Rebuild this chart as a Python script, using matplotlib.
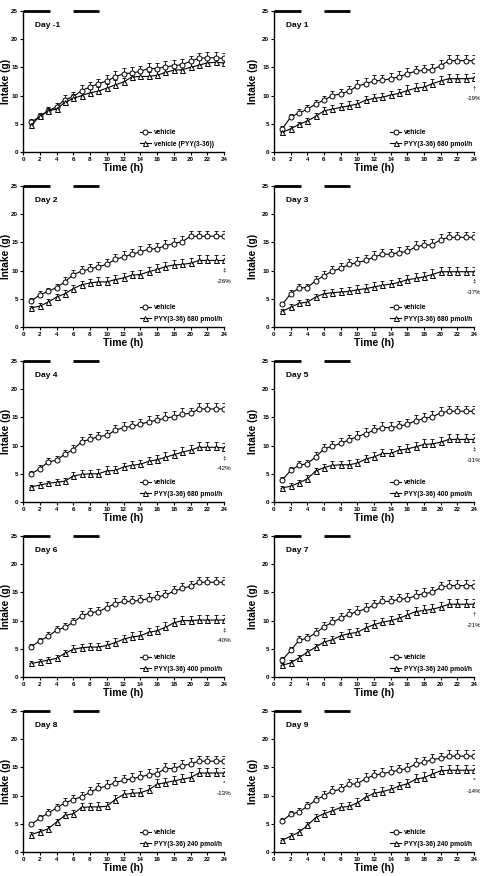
import matplotlib
matplotlib.use('Agg')
import matplotlib.pyplot as plt

plt.rcParams['font.family'] = ['Liberation Sans', 'DejaVu Sans']

HOURS = list(range(1, 25))
DARK_BARS = [(0.0, 3.2), (6.0, 9.1)]

DAY_TITLES = ['Day -1', 'Day 1', 'Day 2', 'Day 3', 'Day 4', 'Day 5', 'Day 6', 'Day 7', 'Day 8', 'Day 9']
PYY_LABELS = ['vehicle (PYY(3-36))', 'PYY(3-36) 680 pmol/h', 'PYY(3-36) 680 pmol/h', 'PYY(3-36) 680 pmol/h',
              'PYY(3-36) 680 pmol/h', 'PYY(3-36) 400 pmol/h', 'PYY(3-36) 400 pmol/h', 'PYY(3-36) 240 pmol/h',
              'PYY(3-36) 240 pmol/h', 'PYY(3-36) 240 pmol/h']
SIG_MARKS = ['', '†', '‡', '‡', '‡', '‡', '‡', '†', '*', '*']
PCT_LABELS = ['', '-19%', '-26%', '-37%', '-42%', '-31%', '-40%', '-21%', '-13%', '-14%']

VEH_DM1 = [5.3, 6.3, 7.3, 8.0, 9.3, 9.8, 10.9, 11.5, 12.1, 12.6, 13.3, 13.9, 14.0, 14.3, 14.8, 14.8, 15.1, 15.3, 15.5, 16.1, 16.6, 16.7, 16.7, 16.6]
PYY_DM1 = [4.8, 6.3, 7.3, 7.6, 8.8, 9.5, 10.0, 10.5, 10.8, 11.3, 11.9, 12.4, 13.3, 13.4, 13.4, 13.6, 14.1, 14.5, 14.6, 15.0, 15.4, 15.8, 15.9, 15.8]
VEH_D1 = [4.1, 6.2, 6.9, 7.6, 8.5, 9.2, 10.0, 10.3, 10.8, 11.7, 12.1, 12.6, 12.7, 13.0, 13.3, 13.9, 14.3, 14.5, 14.6, 15.3, 16.2, 16.2, 16.2, 16.2]
PYY_D1 = [3.5, 4.1, 4.9, 5.5, 6.3, 7.3, 7.6, 7.9, 8.2, 8.5, 9.2, 9.5, 9.7, 10.1, 10.4, 10.9, 11.3, 11.5, 12.1, 12.6, 13.0, 13.0, 13.0, 13.1]
VEH_D2 = [4.6, 5.7, 6.3, 7.0, 8.0, 9.3, 9.9, 10.3, 10.7, 11.1, 12.0, 12.4, 12.9, 13.3, 13.8, 13.9, 14.4, 14.8, 15.1, 16.1, 16.1, 16.1, 16.1, 16.1]
PYY_D2 = [3.4, 3.7, 4.4, 5.3, 5.9, 6.8, 7.5, 7.8, 8.0, 8.0, 8.4, 8.7, 9.2, 9.3, 9.8, 10.2, 10.7, 11.0, 11.1, 11.3, 11.8, 11.8, 11.8, 11.8]
VEH_D3 = [4.0, 5.9, 6.9, 7.0, 8.2, 9.1, 9.9, 10.4, 11.1, 11.4, 11.8, 12.4, 12.9, 12.9, 13.2, 13.4, 14.2, 14.5, 14.6, 15.5, 15.9, 15.9, 15.9, 15.9]
PYY_D3 = [2.8, 3.5, 4.2, 4.4, 5.3, 5.9, 6.1, 6.2, 6.3, 6.6, 6.8, 7.1, 7.4, 7.6, 7.9, 8.4, 8.6, 8.9, 9.3, 9.8, 9.8, 9.8, 9.8, 9.8]
VEH_D4 = [5.0, 5.9, 7.1, 7.4, 8.5, 9.3, 10.7, 11.1, 11.6, 11.8, 12.7, 13.2, 13.4, 13.8, 14.2, 14.5, 14.9, 15.1, 15.6, 15.7, 16.5, 16.5, 16.5, 16.5]
PYY_D4 = [2.7, 3.0, 3.3, 3.5, 3.7, 4.6, 4.9, 5.0, 5.0, 5.5, 5.6, 6.2, 6.5, 6.7, 7.2, 7.5, 7.9, 8.4, 8.8, 9.2, 9.7, 9.7, 9.7, 9.6]
VEH_D5 = [3.9, 5.6, 6.5, 6.8, 8.0, 9.4, 9.9, 10.4, 11.0, 11.6, 12.1, 12.7, 13.2, 13.2, 13.4, 13.8, 14.4, 14.8, 15.1, 15.8, 16.1, 16.1, 16.1, 16.1]
PYY_D5 = [2.5, 2.8, 3.4, 4.1, 5.5, 6.1, 6.5, 6.6, 6.6, 6.9, 7.6, 8.0, 8.6, 8.6, 9.2, 9.4, 9.8, 10.2, 10.3, 10.6, 11.1, 11.1, 11.1, 11.1]
VEH_D6 = [5.4, 6.4, 7.2, 8.3, 8.8, 9.7, 10.8, 11.4, 11.6, 12.3, 13.0, 13.4, 13.4, 13.6, 13.9, 14.2, 14.5, 15.2, 15.7, 16.1, 16.8, 16.8, 16.8, 16.8]
PYY_D6 = [2.4, 2.7, 3.0, 3.3, 4.2, 4.9, 5.2, 5.3, 5.3, 5.6, 6.1, 6.7, 7.1, 7.3, 7.9, 8.2, 8.8, 9.6, 10.0, 10.0, 10.1, 10.1, 10.1, 10.1]
VEH_D7 = [3.0, 4.7, 6.5, 6.9, 7.8, 8.9, 9.7, 10.4, 11.1, 11.6, 12.1, 12.7, 13.4, 13.4, 13.8, 13.9, 14.4, 14.8, 15.0, 15.9, 16.2, 16.2, 16.2, 16.2]
PYY_D7 = [2.1, 2.5, 3.4, 4.4, 5.3, 6.2, 6.6, 7.3, 7.7, 7.9, 8.7, 9.3, 9.7, 10.0, 10.4, 11.0, 11.6, 11.8, 12.0, 12.4, 12.9, 12.9, 12.9, 12.9]
VEH_D8 = [4.9, 6.0, 6.9, 7.8, 8.7, 9.3, 9.8, 10.6, 11.3, 11.7, 12.3, 12.7, 13.0, 13.3, 13.7, 13.9, 14.8, 14.8, 15.3, 15.6, 16.1, 16.1, 16.1, 16.1]
PYY_D8 = [3.1, 3.6, 4.1, 5.3, 6.5, 6.8, 7.9, 8.0, 8.0, 8.1, 9.3, 10.2, 10.4, 10.5, 11.0, 12.0, 12.3, 12.6, 12.9, 13.2, 14.0, 14.0, 14.0, 14.0]
VEH_D9 = [5.5, 6.7, 7.1, 8.1, 9.2, 10.0, 10.8, 11.1, 12.0, 12.1, 13.0, 13.6, 13.9, 14.2, 14.5, 14.8, 15.6, 15.9, 16.4, 16.6, 17.0, 17.0, 17.0, 17.0]
PYY_D9 = [2.1, 2.8, 3.5, 4.7, 6.1, 6.8, 7.3, 7.9, 8.1, 8.7, 9.7, 10.4, 10.7, 11.1, 11.7, 12.1, 12.9, 13.2, 13.8, 14.4, 14.5, 14.5, 14.5, 14.5]

# rough SEM read from the little caps above the markers
SEM_VEH = [0.5, 0.6, 0.7, 0.7, 0.8, 0.8, 0.9, 0.9, 0.9, 1.0, 1.0, 1.0, 1.0, 1.0, 1.0, 1.0, 1.0, 1.0, 1.0, 1.0, 1.0, 1.0, 1.0, 1.0]
SEM_PYY = [0.4, 0.5, 0.5, 0.6, 0.6, 0.7, 0.7, 0.7, 0.8, 0.8, 0.8, 0.8, 0.8, 0.8, 0.8, 0.9, 0.9, 0.9, 0.9, 0.9, 0.9, 0.9, 0.9, 0.9]

VEH_SERIES = [VEH_DM1, VEH_D1, VEH_D2, VEH_D3, VEH_D4, VEH_D5, VEH_D6, VEH_D7, VEH_D8, VEH_D9]
PYY_SERIES = [PYY_DM1, PYY_D1, PYY_D2, PYY_D3, PYY_D4, PYY_D5, PYY_D6, PYY_D7, PYY_D8, PYY_D9]

W, H = 480, 876
fig = plt.figure(figsize=(W / 100, H / 100), dpi=100)

col_left = [23, 274]
col_width = [201, 200]
ax_h = 141

for i in range(10):
    row, col = divmod(i, 2)
    top = 11 + 175 * row
    ax = fig.add_axes([col_left[col] / W, 1 - (top + ax_h) / H, col_width[col] / W, ax_h / H])

    for series, sem, marker, label in [(VEH_SERIES[i], SEM_VEH, 'o', 'vehicle'),
                                       (PYY_SERIES[i], SEM_PYY, '^', PYY_LABELS[i])]:
        ax.errorbar(HOURS, series, yerr=[[0] * len(sem), sem], fmt='none', ecolor='black',
                    elinewidth=0.6, capsize=1.2, capthick=0.6, zorder=2)
        ax.plot(HOURS, series, color='black', lw=0.8, marker=marker, ms=3.6,
                mfc='white', mec='black', mew=0.7, label=label, zorder=3)

    for x0, x1 in DARK_BARS:
        ax.plot([x0, x1], [25, 25], color='black', lw=2.0, solid_capstyle='butt', clip_on=False, zorder=4)

    ax.set_xlim(0, 24)
    ax.set_ylim(0, 25)
    ax.set_xticks(range(0, 25, 2))
    ax.set_yticks(range(0, 26, 5))
    for side in ['top', 'right']:
        ax.spines[side].set_visible(False)
    for side in ['left', 'bottom']:
        ax.spines[side].set_linewidth(1.0)
    ax.tick_params(direction='out', length=2, width=0.8, pad=1.5, labelsize=4.5)
    for lab in ax.get_xticklabels() + ax.get_yticklabels():
        lab.set_fontweight('bold')
    ax.set_xlabel('Time (h)', fontsize=7.5, fontweight='bold', labelpad=1)
    ax.set_ylabel('Intake (g)', fontsize=7.3, fontweight='bold', labelpad=3)
    if col == 0:
        # left column sits right against the figure edge, keep the label inside
        ax.yaxis.set_label_coords(-0.058, 0.5)

    ax.text(1.4, 22.2, DAY_TITLES[i], fontsize=6, fontweight='bold')

    if SIG_MARKS[i]:
        ax.annotate(SIG_MARKS[i], (24, PYY_SERIES[i][-1]), xytext=(0, -7), textcoords='offset points',
                    ha='center', va='center', fontsize=4.5, annotation_clip=False)
        ax.annotate(PCT_LABELS[i], (24, PYY_SERIES[i][-1]), xytext=(0, -15), textcoords='offset points',
                    ha='center', va='center', fontsize=4.5, annotation_clip=False)

    leg = ax.legend(loc='lower left', bbox_to_anchor=(0.58, 0.03), frameon=False, fontsize=4.8,
                    handlelength=1.7, handletextpad=0.4, labelspacing=0.7, borderpad=0, borderaxespad=0)
    for t in leg.get_texts():
        t.set_fontweight('bold')

fig.savefig('out.png', dpi=100)
